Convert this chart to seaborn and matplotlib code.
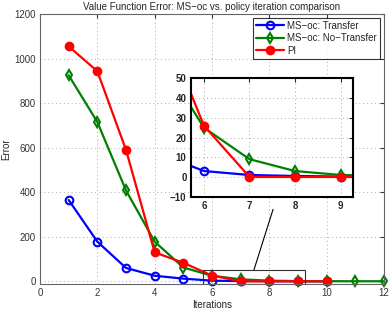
import numpy as np
import pandas as pd
import seaborn as sns
import matplotlib
matplotlib.use("Agg")
import matplotlib.pyplot as plt
from matplotlib.patches import Rectangle

iters_transfer = [1, 2, 3, 4, 5, 6, 7, 8, 9, 10]
err_transfer = [365, 178, 60, 25, 12, 3, 1, 0.5, 0.2, 0.1]
iters_notransfer = [1, 2, 3, 4, 5, 6, 7, 8, 9, 10, 11, 12]
err_notransfer = [925, 715, 408, 178, 62, 25, 9, 3, 1, 0.5, 0.3, 0.2]
iters_pi = [1, 2, 3, 4, 5, 6, 7, 8, 9, 10]
err_pi = [1055, 943, 590, 130, 83, 26, 0, 0, 0, 0]

labels = ["MS\u2212oc: Transfer", "MS\u2212oc: No\u2212Transfer", "PI"]
title = "Value Function Error: MS\u2212oc vs. policy iteration comparison"

sns.set_style("white")
plt.rcParams['font.family'] = ['Liberation Sans', 'DejaVu Sans']

fig = plt.figure(figsize=(3.9, 3.1), dpi=100)
ax = fig.add_axes([0.1026, 0.0839, 0.882, 0.8709])
axin = fig.add_axes([0.489, 0.3655, 0.416, 0.3819])

series = [
    (iters_transfer, err_transfer, "#0000ff", "o", "none", 5.5),
    (iters_notransfer, err_notransfer, "#008000", "d", "none", 5.5),
    (iters_pi, err_pi, "#ff0000", "o", "#ff0000", 5.5),
]

def draw(a, lw, clip):
    handles = []
    for (x, y, c, m, fc, ms), lab in zip(series, labels):
        df = pd.DataFrame({"x": x, "y": y})
        sns.lineplot(data=df, x="x", y="y", ax=a, color=c, marker=m,
                     markersize=ms, markerfacecolor=fc, markeredgecolor=c,
                     markeredgewidth=1.5, linewidth=lw, label=lab,
                     legend=False, clip_on=clip)
        handles.append(a.lines[-1])
    return handles

handles = draw(ax, 1.6, False)
draw(axin, 1.6, True)

# main axes styling
ax.set_xlim(0, 12)
ax.set_ylim(-12, 1200)
ax.set_xticks(range(0, 13, 2))
ax.set_yticks(range(0, 1201, 200))
ax.grid(True, linestyle=(0, (1, 3)), color="#aaaaaa", linewidth=0.7)
for s in ax.spines.values():
    s.set_color("#666666")
    s.set_linewidth(0.8)
ax.tick_params(direction="in", length=3, labelsize=7, colors="#333333",
               top=True, right=True, pad=3)
ax.set_xlabel("Iterations", fontsize=7, labelpad=1)
ax.set_ylabel("Error", fontsize=7, labelpad=2)
ax.set_title(title, fontsize=7, pad=3)

leg = ax.legend(handles=handles, labels=labels, loc="upper right",
                fontsize=7, frameon=True, fancybox=False, borderaxespad=0.4,
                handlelength=2.8, borderpad=0.3, labelspacing=0.25,
                handletextpad=0.4)
leg.get_frame().set_edgecolor("black")
leg.get_frame().set_linewidth(0.8)

# zoom rectangle and connector
ax.add_patch(Rectangle((5.67, -10), 9.24 - 5.67, 60, fill=False,
                       edgecolor="#333333", linewidth=0.8, zorder=5))
ax.plot([7.46, 8.13], [50, 323], color="black", linewidth=0.8)

# inset styling
axin.set_xlim(5.71, 9.27)
axin.set_ylim(-10, 50)
axin.set_xticks([6, 7, 8, 9])
axin.set_yticks(range(-10, 51, 10))
axin.grid(True, linestyle=(0, (1, 3)), color="#aaaaaa", linewidth=0.7)
axin.set_xlabel("")
axin.set_ylabel("")
for s in axin.spines.values():
    s.set_color("black")
    s.set_linewidth(1.5)
axin.tick_params(direction="in", length=3, labelsize=7, top=True, right=True,
                 pad=3)
for t in axin.get_xticklabels() + axin.get_yticklabels():
    t.set_fontweight("bold")

fig.savefig("out.png", dpi=100)
